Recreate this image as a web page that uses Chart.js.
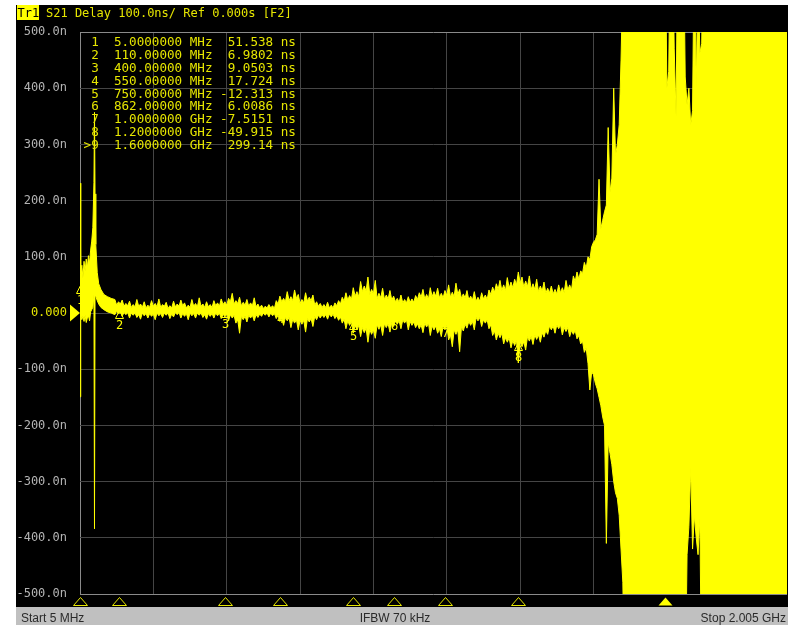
<!DOCTYPE html>
<html><head><meta charset="utf-8">
<script src="https://cdn.jsdelivr.net/npm/chart.js@4.4.1/dist/chart.umd.min.js"></script>
<style>html,body{margin:0;padding:0;background:#fff}#wrap{width:790px;height:625px}</style>
</head><body><div id="wrap"><canvas id="c" width="790" height="625"></canvas></div>
<script>
// ---- data (MHz, ns: upper and lower edge of the noisy delay trace) ----
const freqMHz = [
  5,7,10,13,16,19,22,25,28,31,34,37,40,43,44.5,46,48,52,56,62,70,80,90,100,
  105,110,115,120,125,130,135,140,145,150,155,160,165,170,175,180,185,190,195,200,
  205,210,215,220,225,230,235,240,245,250,255,260,265,270,275,280,285,290,295,300,
  305,310,315,320,325,330,335,340,345,350,355,360,365,370,375,380,385,390,395,400,
  405,410,415,420,425,430,435,440,445,450,455,460,465,470,475,480,485,490,495,500,
  505,510,515,520,525,530,535,540,545,550,555,560,565,570,575,580,585,590,595,600,
  605,610,615,620,625,630,635,640,645,650,655,660,665,670,675,680,685,690,695,700,
  705,710,715,720,725,730,735,740,745,750,755,760,765,770,775,780,785,790,795,800,
  805,810,815,820,825,830,835,840,845,850,855,860,865,870,875,880,885,890,895,900,
  905,910,915,920,925,930,935,940,945,950,955,960,965,970,975,980,985,990,995,1000,
  1005,1010,1015,1020,1025,1030,1035,1040,1045,1050,1055,1060,1065,1070,1075,1080,1085,1090,1095,1100,
  1105,1110,1115,1120,1125,1130,1135,1140,1145,1150,1155,1160,1165,1170,1175,1180,1185,1190,1195,1200,
  1205,1210,1215,1220,1225,1230,1235,1240,1245,1250,1255,1260,1265,1270,1275,1280,1285,1290,1295,1300,
  1305,1310,1315,1320,1325,1330,1335,1340,1345,1350,1355,1360,1365,1370,1375,1380,1385,1390,1395,1400,
  1405,1410,1415,1420,1425,1430,1435,1440,1445,1450,1455,1460,1465,1470,1475,1480,1485,1490,1495,1500,
  1550,1600,1605,1610,1615,1620,1625,1630,1635,1640,1645,1650,1655,1660,1665,1670,1675,1680,1685,1690,1695,1700,1705,1710,1800,1940
];
const delayUpperNs = [
  231,70,85,62,92,74,96,80,102,88,112,128,152,232,357,212,122,72,52,42,33,29,26,24,
  14,20,16,23,12,17,13,21,10,15,11,24,12,16,10,20,9,14,10,22,
  12,17,11,25,10,15,12,19,8,13,9,21,11,16,12,23,13,18,9,14,
  10,24,12,17,11,27,12,16,10,20,11,15,10,22,13,18,12,25,15,20,
  14,26,20,35,16,22,17,28,13,19,14,24,12,18,13,27,11,16,9,14,
  8,12,9,15,9,13,8,22,16,30,20,26,20,38,22,29,22,41,26,33,
  17,24,18,36,21,28,22,32,14,20,12,17,10,15,10,19,9,14,9,18,
  13,22,16,28,21,36,23,31,24,45,30,38,29,56,38,48,39,64,33,42,
  34,58,26,35,27,44,24,32,25,40,23,30,20,26,19,32,18,24,18,29,
  19,25,19,31,24,36,28,42,25,33,25,45,29,38,30,44,27,35,27,40,
  31,50,28,37,29,53,33,42,26,34,27,40,23,30,23,38,21,28,21,36,
  25,32,24,41,33,46,37,52,42,58,40,50,40,63,44,55,45,60,50,73,
  53,64,46,57,47,66,42,52,42,60,38,48,39,55,35,44,36,48,34,42,
  34,50,36,45,36,58,41,50,41,66,56,73,60,75,70,90,80,100,95,118,
  126,130,140,238,150,165,180,192,330,215,240,400,280,300,335,450,600,700,700,700,
  700,700,400,430,700,700,470,350,700,700,700,700,420,370,400,334,360,700,400,600,462,480,700,700,700,700
];
const delayLowerNs = [
  -149,-5,-12,-6,-15,-4,-17,-9,-5,-14,2,6,10,32,-384,36,30,22,16,10,6,2,0,-3,
  3,-2,2,-6,1,-3,1,-9,0,-4,0,-8,-3,-11,0,-5,-1,-9,-1,-6,
  -2,-12,0,-5,-1,-8,0,-4,0,-10,-2,-7,1,-3,1,-9,-1,-6,-1,-12,
  0,-5,-1,-9,0,-4,0,-8,-3,-11,-1,-6,-1,-9,0,-5,0,-10,-2,-7,
  -2,-14,-3,-9,-4,-18,-12,-36,-6,-12,-6,-16,-4,-9,-4,-14,-3,-8,-2,-6,
  0,-4,0,-7,0,-5,-1,-10,-4,-15,-9,-22,-8,-14,-8,-26,-11,-18,-12,-30,
  -13,-20,-13,-34,-10,-16,-10,-24,-6,-12,-4,-9,-3,-8,-3,-11,-2,-7,-2,-10,
  -5,-13,-7,-18,-11,-28,-14,-22,-15,-36,-22,-30,-22,-42,-26,-35,-27,-52,-29,-38,
  -30,-45,-21,-29,-21,-40,-19,-26,-19,-34,-17,-24,-14,-20,-14,-28,-12,-18,-12,-30,
  -15,-22,-16,-26,-19,-28,-21,-35,-18,-25,-18,-40,-23,-30,-23,-36,-28,-42,-23,-30,
  -22,-48,-39,-60,-30,-38,-30,-69,-24,-32,-20,-27,-15,-22,-15,-30,-8,-14,-8,-24,
  -12,-18,-12,-28,-21,-40,-32,-48,-36,-44,-36,-55,-44,-52,-44,-62,-49,-58,-49,-89,
  -51,-60,-51,-66,-42,-50,-42,-56,-39,-47,-39,-52,-35,-43,-31,-38,-23,-30,-23,-36,
  -21,-28,-21,-39,-26,-33,-26,-42,-31,-38,-31,-46,-40,-55,-50,-70,-62,-90,-137,-105,
  -110,-125,-135,-150,-165,-185,-200,-410,-230,-250,-270,-300,-320,-330,-360,-420,-480,-700,-700,-700,
  -700,-700,-700,-700,-700,-700,-700,-700,-700,-700,-700,-700,-700,-430,-380,-275,-420,-360,-400,-430,-365,-700,-700,-700,-700,-700
];
const yTicksNs = [-500,-400,-300,-200,-100,0,100,200,300,400,500];
const gridFreqMHz = [5,205,405,605,805,1005,1205,1405,1605,1805];
const xStartMHz = 5;
const xViewEndMHz = 1932.5;

const markerNum = [1,2,3,4,5,6,7,8,9];
const markerFreqMHz = [5,110,400,550,750,862,1000,1200,1600];
const markerDelayNs = [51.538,6.9802,9.0503,17.724,-12.313,6.0086,-7.5151,-49.915,299.14];
const markerFreqText = ['5.0000000','110.00000','400.00000','550.00000','750.00000','862.00000','1.0000000','1.2000000','1.6000000'];
const markerUnitText = ['MHz','MHz','MHz','MHz','MHz','MHz','GHz','GHz','GHz'];
const markerValueText = ['51.538','6.9802','9.0503','17.724','-12.313','6.0086','-7.5151','-49.915','299.14'];
const activeMarker = 9;

const traceName = 'Tr1';
const titleText = 'S21 Delay 100.0ns/ Ref 0.000s [F2]';
const startText = 'Start 5 MHz';
const ifbwText = 'IFBW 70 kHz';
const stopText = 'Stop 2.005 GHz';

// ---- drawing ----
const MONO = '"DejaVu Sans Mono", "Liberation Mono", monospace';
const YEL = '#ffff00';
const TXT_YEL = '#e6e600';

const upperPts = freqMHz.map((f,i)=>({x:f,y:delayUpperNs[i]}));
const lowerPts = freqMHz.map((f,i)=>({x:f,y:delayLowerNs[i]}));

const vnaPlugin = {
  id:'vna',
  beforeDraw(chart){
    const c = chart.ctx; c.save();
    c.fillStyle='#ffffff'; c.fillRect(0,0,790,625);
    c.fillStyle='#000000'; c.fillRect(16,5,772,602);
    c.fillStyle='#c0c0c0'; c.fillRect(16,607,772,18);
    c.restore();
  },
  afterDraw(chart){
    const c = chart.ctx, xs = chart.scales.x, ys = chart.scales.y;
    c.save();
    // header
    c.font = '12px ' + MONO;
    c.textBaseline = 'alphabetic';
    c.textAlign = 'left';
    c.fillStyle = YEL; c.fillRect(17,5,22,15);
    c.fillStyle = '#000'; c.fillText(traceName, 17.5, 17);
    c.fillStyle = TXT_YEL; c.fillText(titleText, 46, 17);

    // marker table
    c.font = '12.6px ' + MONO;
    c.textBaseline = 'middle';
    c.fillStyle = TXT_YEL;
    markerNum.forEach((n,i)=>{
      const line = (n===activeMarker?'>':' ') + n + '  ' + markerFreqText[i] + ' ' + markerUnitText[i] + ' ' + markerValueText[i].padStart(7,' ') + ' ns';
      c.fillText(line, 83.6, 42.7 + i*12.9);
    });

    // reference marker (0 level)
    const y0 = ys.getPixelForValue(0);
    c.fillStyle = YEL;
    c.beginPath(); c.moveTo(70,y0-8.5); c.lineTo(80,y0); c.lineTo(70,y0+8.5); c.closePath(); c.fill();

    // in-plot markers
    c.strokeStyle = YEL; c.lineWidth = 1;
    c.font = '12px ' + MONO; c.textAlign='center'; c.textBaseline='top';
    markerNum.forEach((n,i)=>{
      const px = Math.round(xs.getPixelForValue(markerFreqMHz[i])) + 0.5;
      const py = Math.round(ys.getPixelForValue(markerDelayNs[i])) + 0.5;
      c.beginPath(); c.moveTo(px,py+1); c.lineTo(px+4,py+9); c.lineTo(px-4,py+9); c.closePath(); c.stroke();
      c.fillStyle = YEL; c.fillText(String(n), px, py+10);
    });

    // bottom marker triangles
    markerNum.forEach((n,i)=>{
      const px = Math.round(xs.getPixelForValue(markerFreqMHz[i])) + 0.5;
      c.beginPath(); c.moveTo(px,597.5); c.lineTo(px+7,605.5); c.lineTo(px-7,605.5); c.closePath();
      if(n===activeMarker){ c.fillStyle=YEL; c.fill(); }
      else { c.strokeStyle=TXT_YEL; c.stroke(); }
    });

    // status bar
    c.font = '12px "Liberation Sans", Arial, sans-serif';
    c.fillStyle = '#2a2a2a'; c.textBaseline='alphabetic';
    c.textAlign='left'; c.fillText(startText, 21, 622);
    c.textAlign='center'; c.fillText(ifbwText, 395, 622);
    c.textAlign='right'; c.fillText(stopText, 786, 622);
    c.restore();
  }
};

new Chart(document.getElementById('c'), {
  type:'line',
  data:{ datasets:[
    {label:'upper', data:upperPts, borderColor:YEL, borderWidth:1, pointRadius:0, tension:0, fill:false},
    {label:'lower', data:lowerPts, borderColor:YEL, borderWidth:1, pointRadius:0, tension:0, fill:'-1', backgroundColor:YEL}
  ]},
  options:{
    responsive:false, animation:false, devicePixelRatio:1,
    layout:{padding:{left:0, top:32, right:3, bottom:31}},
    plugins:{legend:{display:false}, tooltip:{enabled:false}},
    scales:{
      x:{ type:'linear', min:xStartMHz, max:xViewEndMHz,
          afterBuildTicks: s => { s.ticks = gridFreqMHz.map(v=>({value:v})); },
          ticks:{display:false},
          border:{display:false},
          grid:{drawTicks:false, lineWidth:1, color: ctx => (ctx.tick && ctx.tick.value===xStartMHz) ? '#8a8a8a' : '#454545'} },
      y:{ min:-500, max:500,
          afterBuildTicks: s => { s.ticks = yTicksNs.map(v=>({value:v})); },
          afterFit: s => { s.width = 80; },
          border:{display:false},
          grid:{drawTicks:false, lineWidth:1, color: ctx => (ctx.tick && Math.abs(ctx.tick.value)===500) ? '#8a8a8a' : '#454545'},
          ticks:{ padding:13, font:{family:MONO, size:12},
                  color: ctx => (ctx.tick && ctx.tick.value===0) ? TXT_YEL : '#b4b4b4',
                  callback: v => v===0 ? '0.000' : v.toFixed(1)+'n' } }
    }
  },
  plugins:[vnaPlugin]
});
</script></body></html>
